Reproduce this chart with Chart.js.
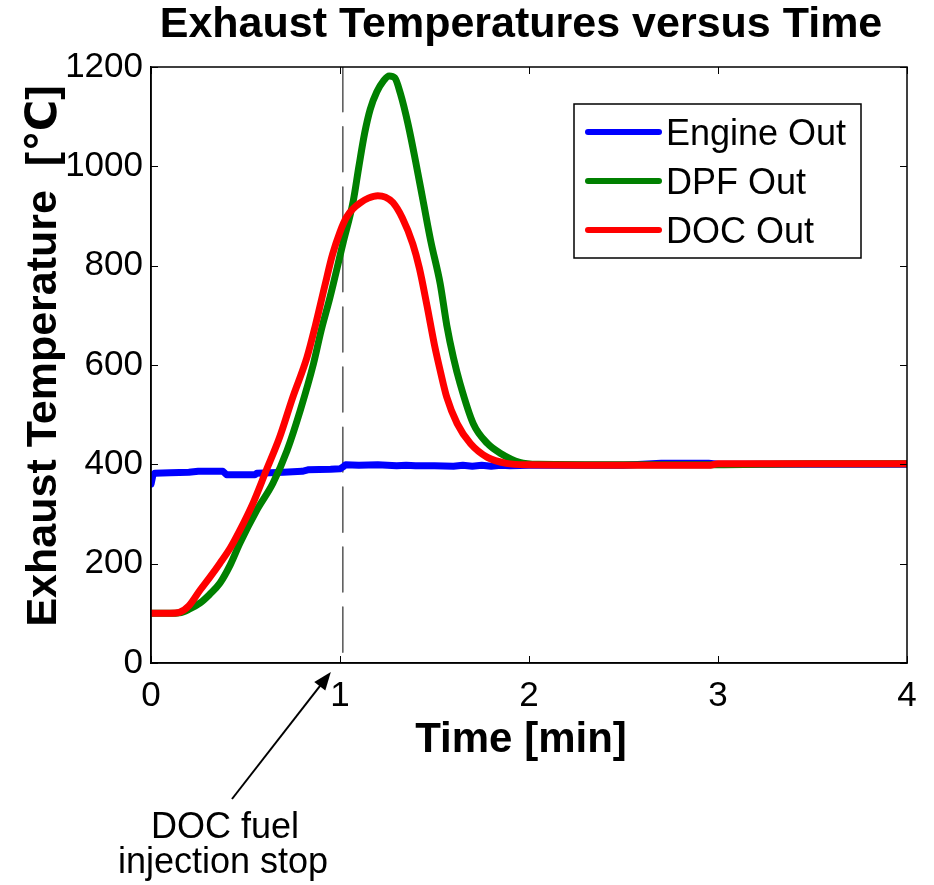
<!DOCTYPE html>
<html>
<head>
<meta charset="utf-8">
<script src="https://cdn.jsdelivr.net/npm/chart.js@4.4.1/dist/chart.umd.min.js"></script>
<style>
html,body{margin:0;padding:0;background:#fff;}
canvas{display:block;}
</style>
</head>
<body>
<canvas id="c" width="934" height="885" style="width:934px;height:885px"></canvas>
<script>
// ---- data ----
const chartTitle = "Exhaust Temperatures versus Time";
const xTitle = "Time [min]";
const yTitle = "Exhaust Temperature  [\u2103]";
const seriesNames = ["Engine Out", "DPF Out", "DOC Out"];
const xTicks = [0, 1, 2, 3, 4];
const yTicks = [0, 200, 400, 600, 800, 1000, 1200];

const engineTime = [0, 0.01, 0.02, 0.1, 0.2, 0.25, 0.38, 0.4, 0.55, 0.56, 0.7, 0.8, 0.83, 0.95, 1.0, 1.02, 1.03, 1.1, 1.2, 1.3, 1.35, 1.4, 1.5, 1.6, 1.65, 1.7, 1.75, 1.8, 1.85, 1.9, 2.0, 2.5, 2.7, 2.95, 3.0, 4.0];
const engineOut  = [360, 378, 382, 383, 384, 386, 386, 379, 379, 382, 384, 386, 389, 390, 391, 396, 399, 398, 399, 397, 398, 397, 397, 396, 398, 396, 398, 396, 398, 397, 398, 398, 402, 402, 400, 400];

const dpfTime = [0, 0.1, 0.15, 0.2, 0.26, 0.31, 0.365, 0.42, 0.47, 0.56, 0.645, 0.72, 0.79, 0.86, 0.9, 0.947, 1.015, 1.07, 1.1, 1.13, 1.16, 1.195, 1.23, 1.26, 1.29, 1.32, 1.36, 1.40, 1.44, 1.48, 1.53, 1.565, 1.6, 1.635, 1.705, 1.78, 1.85, 1.95, 2.05, 2.5, 2.95, 3.5, 4.0];
const dpfOut  = [100, 100, 101, 108, 121, 138, 161, 198, 241, 308, 362, 428, 509, 603, 669, 736, 844, 930, 1000, 1066, 1115, 1150, 1172, 1182, 1178, 1146, 1085, 1010, 930, 850, 764, 680, 615, 563, 482, 442, 422, 404, 400, 399, 399, 401, 401];

const docTime = [0, 0.1, 0.15, 0.2, 0.26, 0.31, 0.365, 0.42, 0.47, 0.54, 0.61, 0.68, 0.75, 0.825, 0.87, 0.92, 0.96, 1.0, 1.035, 1.07, 1.105, 1.15, 1.2, 1.24, 1.28, 1.33, 1.385, 1.42, 1.46, 1.5, 1.53, 1.565, 1.62, 1.69, 1.78, 1.88, 2.0, 2.5, 2.95, 3.0, 3.5, 4.0];
const docOut  = [100, 100, 102, 115, 147, 172, 201, 232, 267, 322, 388, 454, 535, 615, 680, 760, 822, 868, 898, 915, 926, 936, 941, 938, 927, 896, 844, 795, 720, 640, 589, 535, 482, 442, 414, 402, 399, 398, 398, 401, 401, 401];

const stopTime = 1.015;            // DOC fuel injection stop (dashed marker)
const stopRange = [1200, 0];
const annotationLines = ["DOC fuel", "injection stop"];

const toPts = (xs, ys) => xs.map((x, i) => ({x: x, y: ys[i]}));

const FONT = "'Liberation Sans', Arial, 'DejaVu Sans', sans-serif";

const decorPlugin = {
  id: 'decor',
  afterDatasetsDraw(chart) {
    const ctx = chart.ctx;
    const a = chart.chartArea;
    const xs = chart.scales.x, ys = chart.scales.y;
    ctx.save();
    // box
    ctx.strokeStyle = '#000';
    ctx.lineWidth = 1.5;
    ctx.strokeRect(a.left, a.top, a.right - a.left, a.bottom - a.top);
    // inward ticks
    ctx.lineWidth = 1;
    const tl = 7;
    ys.ticks.forEach(t => {
      const p = Math.round(ys.getPixelForValue(t.value)) + 0.5;
      ctx.beginPath();
      ctx.moveTo(a.left, p); ctx.lineTo(a.left + tl, p);
      ctx.moveTo(a.right, p); ctx.lineTo(a.right - tl, p);
      ctx.stroke();
    });
    xs.ticks.forEach(t => {
      const p = Math.round(xs.getPixelForValue(t.value)) + 0.5;
      ctx.beginPath();
      ctx.moveTo(p, a.bottom); ctx.lineTo(p, a.bottom - tl);
      ctx.moveTo(p, a.top); ctx.lineTo(p, a.top + tl);
      ctx.stroke();
    });
    // legend
    const lx = 574, ly = 104, lw = 287, lh = 154;
    ctx.fillStyle = '#fff';
    ctx.fillRect(lx, ly, lw, lh);
    ctx.strokeStyle = '#000';
    ctx.lineWidth = 1.5;
    ctx.strokeRect(lx, ly, lw, lh);
    const legendSets = chart.data.datasets.filter(d => seriesNames.includes(d.label));
    const rowsY = [132, 181, 230];
    ctx.font = "36px " + FONT;
    ctx.textBaseline = 'alphabetic';
    ctx.textAlign = 'left';
    seriesNames.forEach((name, i) => {
      const ds = legendSets.find(d => d.label === name);
      ctx.strokeStyle = ds.borderColor;
      ctx.lineWidth = 6;
      ctx.lineCap = 'round';
      ctx.beginPath();
      ctx.moveTo(588, rowsY[i]); ctx.lineTo(659, rowsY[i]);
      ctx.stroke();
      ctx.fillStyle = '#000';
      ctx.fillText(name, 666, rowsY[i] + 13);
    });
    ctx.restore();
  },
  afterDraw(chart) {
    const ctx = chart.ctx;
    const a = chart.chartArea;
    const xs = chart.scales.x;
    ctx.save();
    ctx.fillStyle = '#000';
    // title
    ctx.font = "bold 43px " + FONT;
    ctx.textAlign = 'center';
    ctx.textBaseline = 'alphabetic';
    ctx.fillText(chartTitle, 521, 37);
    // x title
    ctx.font = "bold 42px " + FONT;
    ctx.fillText(xTitle, 521, 752);
    // y title
    ctx.save();
    ctx.font = "bold 43px " + FONT;
    ctx.translate(56, 356);
    ctx.rotate(-Math.PI / 2);
    ctx.fillText(yTitle, 0, 0);
    ctx.restore();
    // annotation
    ctx.font = "36px " + FONT;
    ctx.fillText(annotationLines[0], 225, 838);
    ctx.fillText(annotationLines[1], 223, 873);
    // arrow towards the stop time on the x axis
    const tipX = xs.getPixelForValue(stopTime) - 12, tipY = a.bottom + 9;
    const tailX = 232, tailY = 799;
    const ang = Math.atan2(tipY - tailY, tipX - tailX);
    const hl = 18, hw = 7;
    ctx.strokeStyle = '#000';
    ctx.lineWidth = 2;
    ctx.beginPath();
    ctx.moveTo(tailX, tailY);
    ctx.lineTo(tipX - hl * Math.cos(ang) * 0.8, tipY - hl * Math.sin(ang) * 0.8);
    ctx.stroke();
    ctx.beginPath();
    ctx.moveTo(tipX, tipY);
    ctx.lineTo(tipX - hl * Math.cos(ang) + hw * Math.sin(ang), tipY - hl * Math.sin(ang) - hw * Math.cos(ang));
    ctx.lineTo(tipX - hl * Math.cos(ang) - hw * Math.sin(ang), tipY - hl * Math.sin(ang) + hw * Math.cos(ang));
    ctx.closePath();
    ctx.fill();
    ctx.restore();
  }
};

new Chart(document.getElementById('c'), {
  type: 'line',
  data: {
    datasets: [
      { label: seriesNames[2], data: toPts(docTime, docOut), borderColor: '#ff0000', borderWidth: 7, order: 0 },
      { label: seriesNames[1], data: toPts(dpfTime, dpfOut), borderColor: '#008000', borderWidth: 7, order: 1 },
      { label: seriesNames[0], data: toPts(engineTime, engineOut), borderColor: '#0000ff', borderWidth: 7, order: 2, cubicInterpolationMode: 'default', tension: 0 },
      { label: 'stop', data: toPts([stopTime, stopTime], stopRange), borderColor: '#555555', borderWidth: 1.5, borderDash: [45, 15], order: 3, tension: 0 }
    ]
  },
  options: {
    responsive: false,
    animation: false,
    layout: { padding: { left: 0, top: 67, right: 27, bottom: 0 } },
    elements: { point: { radius: 0 }, line: { cubicInterpolationMode: 'monotone', fill: false, borderCapStyle: 'round', borderJoinStyle: 'round' } },
    plugins: { legend: { display: false }, tooltip: { enabled: false }, title: { display: false } },
    scales: {
      x: {
        type: 'linear', min: 0, max: 4,
        afterBuildTicks: s => { s.ticks = xTicks.map(v => ({value: v})); },
        afterFit: s => { s.height = 222; },
        grid: { display: false, drawTicks: false },
        border: { display: true, color: '#000', width: 1.5 },
        ticks: { color: '#000', font: { size: 35, family: FONT }, padding: 12, maxRotation: 0, callback: v => String(v) }
      },
      y: {
        type: 'linear', min: 0, max: 1200,
        afterBuildTicks: s => { s.ticks = yTicks.map(v => ({value: v})); },
        afterFit: s => { s.width = 151; },
        grid: { display: false, drawTicks: false },
        border: { display: true, color: '#000', width: 1.5 },
        ticks: { color: '#000', font: { size: 35, family: FONT }, padding: 8, callback: v => String(v) }
      }
    }
  },
  plugins: [decorPlugin]
});
</script>
</body>
</html>
